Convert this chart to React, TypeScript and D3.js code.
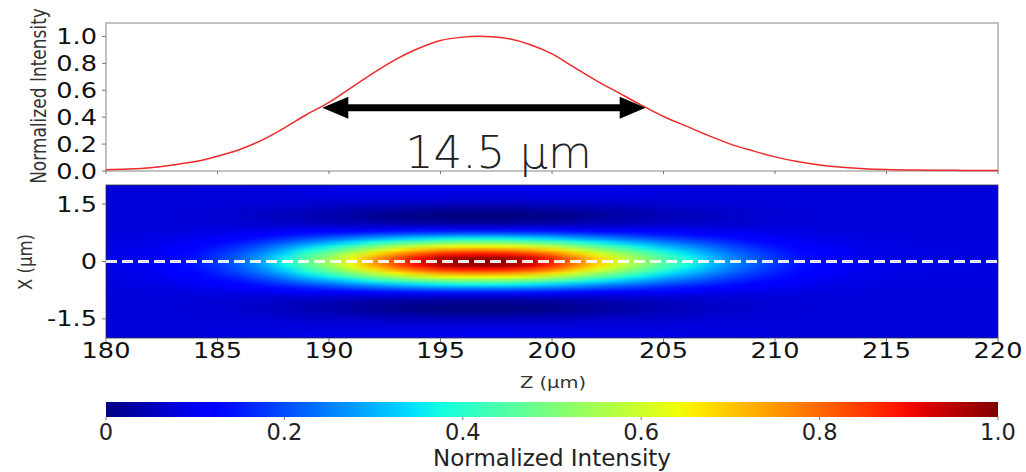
import React, { useMemo } from "react";
import * as d3 from "d3";

// ---------- data ----------
const zPositions = [
  180, 181, 182, 183, 184, 185, 186, 187, 188, 189, 190, 191, 192, 193, 194, 195, 196, 197, 198, 199, 200,
  201, 202, 203, 204, 205, 206, 207, 208, 209, 210, 211, 212, 213, 214, 215, 216, 217, 218, 219, 220,
];
const axialIntensity = [
  0.01, 0.015, 0.025, 0.045, 0.07, 0.11, 0.16, 0.23, 0.32, 0.42, 0.51, 0.62, 0.73, 0.83, 0.91, 0.97, 0.995, 1.0, 0.985, 0.94, 0.87,
  0.77, 0.67, 0.58, 0.49, 0.405, 0.335, 0.265, 0.2, 0.15, 0.105, 0.07, 0.045, 0.028, 0.017, 0.011, 0.008, 0.006, 0.005, 0.004, 0.004,
];
// transverse (X) profile of the focal spot (symmetric about X = 0)
const transverseOffsets = [0, 0.1, 0.2, 0.3, 0.4, 0.5, 0.6, 0.7, 0.8, 0.9, 1.0, 1.1, 1.2, 1.3, 1.4, 1.5, 1.6, 1.7, 1.8, 1.9, 2.0];
const transverseProfile = [1.0, 0.97, 0.89, 0.77, 0.64, 0.5, 0.37, 0.25, 0.15, 0.08, 0.03, 0.01, 0.0, 0.01, 0.03, 0.05, 0.07, 0.08, 0.09, 0.1, 0.1];
const heatBackground = 0.08;

const fwhmStart = 189.7;
const fwhmEnd = 204.2;
const arrowLevel = 0.47;
const fwhmLabel = "14.5 \u03bcm";
const fwhmLabelZ = 197.6;

const topYTicks = [0, 0.2, 0.4, 0.6, 0.8, 1.0];
const zTicks = [180, 185, 190, 195, 200, 205, 210, 215, 220];
const xTicks = [1.5, 0, -1.5];
const xTickLabels = ["1.5", "0", "-1.5"];
const cbTicks = [0, 0.2, 0.4, 0.6, 0.8, 1.0];
const cbTickLabels = ["0", "0.2", "0.4", "0.6", "0.8", "1.0"];

// ---------- jet colormap ----------
const jetR = d3.scaleLinear().domain([0, 0.35, 0.66, 0.89, 1]).range([0, 0, 1, 1, 0.5]).clamp(true);
const jetG = d3.scaleLinear().domain([0, 0.125, 0.375, 0.64, 0.91, 1]).range([0, 0, 1, 1, 0, 0]).clamp(true);
const jetB = d3.scaleLinear().domain([0, 0.11, 0.34, 0.65, 1]).range([0.5, 1, 1, 0, 0]).clamp(true);
const jet = (v: number) => d3.rgb(jetR(v) * 255, jetG(v) * 255, jetB(v) * 255);

const FONT = "DejaVu Sans, sans-serif";
const SX = 1.22; // horizontal stretch of the figure

export default function App() {
  const W = 1026, H = 472;
  const xScale = d3.scaleLinear().domain([180, 220]).range([106, 998]);
  const yTop = d3.scaleLinear().domain([0, 1.1]).range([171, 23]);
  const yHeat = d3.scaleLinear().domain([-2, 2]).range([338, 185]);
  const cbScale = d3.scaleLinear().domain([0, 1]).range([106, 998]);
  const cbTop = 402, cbBottom = 417;

  const curveData = zPositions.map((z, i) => ({ z, v: axialIntensity[i] }));
  const linePath = d3
    .line<{ z: number; v: number }>()
    .x((d) => xScale(d.z))
    .y((d) => yTop(d.v))
    .curve(d3.curveCatmullRom.alpha(0.5))(curveData) as string;

  // rows from X=+2 (top) to X=-2 (bottom)
  const rowX = [...transverseOffsets.slice().reverse(), ...transverseOffsets.slice(1).map((d) => -d)];
  const rowT = [...transverseProfile.slice().reverse(), ...transverseProfile.slice(1)];

  const heatHref = useMemo(() => {
    const cv = document.createElement("canvas");
    cv.width = zPositions.length;
    cv.height = rowX.length;
    const ctx = cv.getContext("2d")!;
    const img = ctx.createImageData(cv.width, cv.height);
    for (let j = 0; j < rowX.length; j++) {
      for (let i = 0; i < zPositions.length; i++) {
        const v = heatBackground + axialIntensity[i] * (rowT[j] - heatBackground);
        const c = jet(v);
        const k = (j * cv.width + i) * 4;
        img.data[k] = c.r;
        img.data[k + 1] = c.g;
        img.data[k + 2] = c.b;
        img.data[k + 3] = 255;
      }
    }
    ctx.putImageData(img, 0, 0);
    return cv.toDataURL();
  }, []);

  const dz = 0.5, dx = 0.05;
  const imgX0 = xScale(zPositions[0] - dz);
  const imgX1 = xScale(zPositions[zPositions.length - 1] + dz);
  const imgY0 = yHeat(rowX[0] + dx);
  const imgY1 = yHeat(rowX[rowX.length - 1] - dx);

  const ax = { x0: xScale(180), x1: xScale(220) };
  const ay = yTop(arrowLevel);
  const headL = 26, headH = 11, lineW = 7;

  const cbStops = d3.range(0, 1.0001, 0.02);
  const tickCol = "#777";

  return (
    <svg width={W} height={H} style={{ position: "absolute", left: 0, top: 0, background: "#fff" }} fontFamily={FONT}>
      <defs>
        <clipPath id="heatClip">
          <rect x={ax.x0} y={yHeat(2)} width={ax.x1 - ax.x0} height={yHeat(-2) - yHeat(2)} />
        </clipPath>
        <clipPath id="topClip">
          <rect x={ax.x0} y={yTop(1.1)} width={ax.x1 - ax.x0} height={yTop(0) - yTop(1.1) + 1} />
        </clipPath>
        <linearGradient id="cbGrad" x1="0" x2="1" y1="0" y2="0">
          {cbStops.map((s) => (
            <stop key={s} offset={s} stopColor={jet(s).toString()} />
          ))}
        </linearGradient>
      </defs>

      {/* ---------- top profile plot ---------- */}
      <rect x={ax.x0} y={yTop(1.1)} width={ax.x1 - ax.x0} height={yTop(0) - yTop(1.1)} fill="#fff" stroke="#999" strokeWidth={1.2} />
      {topYTicks.map((t) => (
        <g key={"yt" + t}>
          <line x1={ax.x0 - 4} x2={ax.x0} y1={yTop(t)} y2={yTop(t)} stroke={tickCol} />
          <text transform={`translate(97,${yTop(t) + 7.6}) scale(${SX},1)`} textAnchor="end" fontSize={21} fill="#111">
            {d3.format(".1f")(t)}
          </text>
        </g>
      ))}
      {zTicks.map((z) => (
        <line key={"zt" + z} x1={xScale(z)} x2={xScale(z)} y1={yTop(0)} y2={yTop(0) + 3} stroke={tickCol} />
      ))}
      <text transform={`translate(38,96) scale(${SX},1) rotate(-90)`} textAnchor="middle" dominantBaseline="central" fontSize={17} fill="#333">
        Normalized Intensity
      </text>
      <path d={linePath} fill="none" stroke="#ee2a2a" strokeWidth={1.5} clipPath="url(#topClip)" />

      {/* FWHM arrow */}
      <line x1={xScale(fwhmStart) + headL - 2} x2={xScale(fwhmEnd) - headL + 2} y1={ay} y2={ay} stroke="#000" strokeWidth={lineW} />
      <polygon
        points={`${xScale(fwhmStart)},${ay} ${xScale(fwhmStart) + headL},${ay - headH} ${xScale(fwhmStart) + headL},${ay + headH}`}
        fill="#000"
      />
      <polygon
        points={`${xScale(fwhmEnd)},${ay} ${xScale(fwhmEnd) - headL},${ay - headH} ${xScale(fwhmEnd) - headL},${ay + headH}`}
        fill="#000"
      />
      <text x={xScale(fwhmLabelZ)} y={168} textAnchor="middle" fontSize={45} fill="#222" fontWeight={300}>
        {fwhmLabel}
      </text>

      {/* ---------- heat map ---------- */}
      <g clipPath="url(#heatClip)">
        <image
          href={heatHref}
          x={imgX0}
          y={imgY0}
          width={imgX1 - imgX0}
          height={imgY1 - imgY0}
          preserveAspectRatio="none"
          style={{ imageRendering: "auto" }}
        />
      </g>
      <rect x={ax.x0} y={yHeat(2)} width={ax.x1 - ax.x0} height={yHeat(-2) - yHeat(2)} fill="none" stroke="#334" strokeWidth={0.8} />
      <line x1={ax.x0} x2={ax.x1} y1={yHeat(0)} y2={yHeat(0)} stroke="#fff" strokeOpacity={0.9} strokeWidth={3} strokeDasharray="11 5" />
      {xTicks.map((t, i) => (
        <g key={"xt" + t}>
          <line x1={ax.x0 - 4} x2={ax.x0} y1={yHeat(t)} y2={yHeat(t)} stroke={tickCol} />
          <text transform={`translate(97,${yHeat(t) + 7.6}) scale(${SX},1)`} textAnchor="end" fontSize={21} fill="#111">
            {xTickLabels[i]}
          </text>
        </g>
      ))}
      {zTicks.map((z) => (
        <g key={"zb" + z}>
          <line x1={xScale(z)} x2={xScale(z)} y1={yHeat(-2)} y2={yHeat(-2) + 4} stroke={tickCol} />
          <text transform={`translate(${xScale(z)},358) scale(${SX},1)`} textAnchor="middle" fontSize={21} fill="#111">
            {z}
          </text>
        </g>
      ))}
      <text transform={`translate(553,388) scale(${SX},1)`} textAnchor="middle" fontSize={16} fill="#333">
        Z (μm)
      </text>
      <text transform={`translate(25,262) scale(${SX},1) rotate(-90)`} textAnchor="middle" dominantBaseline="central" fontSize={16.5} fill="#333">
        X (μm)
      </text>

      {/* ---------- colour bar ---------- */}
      <rect x={cbScale(0)} y={cbTop} width={cbScale(1) - cbScale(0)} height={cbBottom - cbTop} fill="url(#cbGrad)" />
      {cbTicks.map((t, i) => (
        <g key={"cb" + t}>
          <line x1={cbScale(t)} x2={cbScale(t)} y1={cbBottom} y2={cbBottom + 3} stroke={tickCol} />
          <text x={cbScale(t)} y={439.5} textAnchor="middle" fontSize={22.5} fill="#222">
            {cbTickLabels[i]}
          </text>
        </g>
      ))}
      <text x={552} y={466.3} textAnchor="middle" fontSize={23} fill="#222">
        Normalized Intensity
      </text>
    </svg>
  );
}
